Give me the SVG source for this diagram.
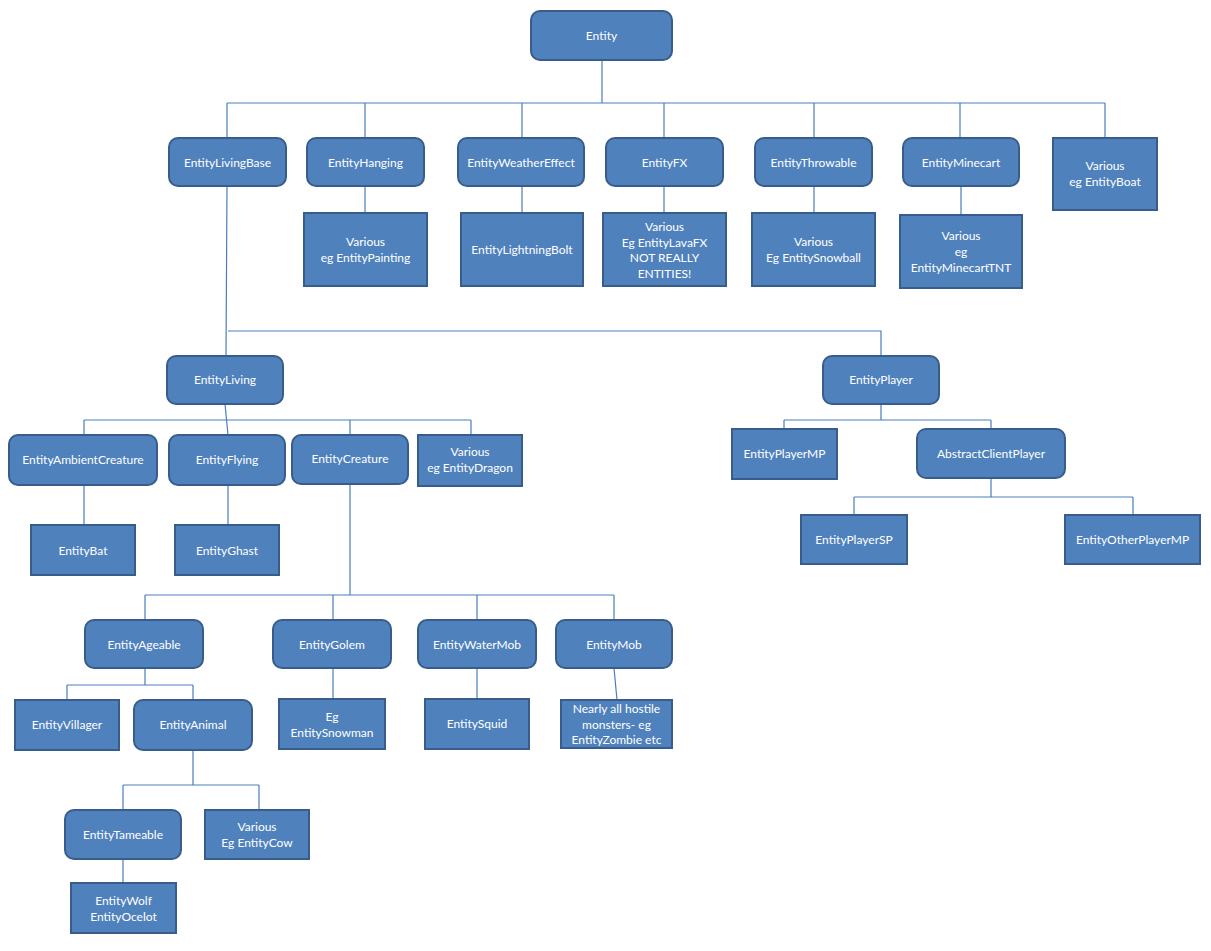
<svg xmlns="http://www.w3.org/2000/svg" width="1211" height="951" viewBox="0 0 1211 951">
<style>
.r{fill:#4F81BD;stroke:#385D8A;stroke-width:2}
.c{fill:none;stroke:#4A7EBB;stroke-width:1.2}
text{font-family:Lato,"Open Sans",sans-serif;font-size:12px;fill:#fff;text-anchor:middle}
</style>
<rect width="1211" height="951" fill="#fff"/>
<g id="connectors" class="c">
<path d="M602 60V103M227 103H1105M227 103V138M365 103V138M522 103V138M664 103V138M814 103V138M960 103V138M1105 103V138"/>
<path d="M365 186V213M522 186V213M664 186V213M814 186V213M961 186V215"/>
<path d="M227 186L226 356M228 331H881V356"/>
<path d="M225 404L228 435M84 420H471M84 420V435M350 420V435M471 420V435"/>
<path d="M84 485V525M228 485V525"/>
<path d="M350 484V595M145 595H614M145 595V620M333 595V620M477 595V620M614 595V620"/>
<path d="M145 668V685M67 685H193M67 685V700M193 685V700M333 668V699M477 668V699M614 668L617 700"/>
<path d="M193 750V785M123 785H259M123 785V810M259 785V810M123 859V883"/>
<path d="M881 404V420M784 420H991M784 420V429M991 420V429M991 478V497M854 497H1133M854 497V515M1133 497V515"/>
</g>
<g id="Entity"><rect class="r" x="531" y="11" width="141" height="49" rx="9"/><text x="601.5" y="40">Entity</text></g>
<g id="EntityLivingBase"><rect class="r" x="169" y="138" width="117" height="48" rx="9"/><text x="227.5" y="167">EntityLivingBase</text></g>
<g id="EntityHanging"><rect class="r" x="307" y="138" width="117" height="48" rx="9"/><text x="365.5" y="167">EntityHanging</text></g>
<g id="EntityWeatherEffect"><rect class="r" x="458" y="138" width="126" height="48" rx="9"/><text x="521" y="167">EntityWeatherEffect</text></g>
<g id="EntityFX"><rect class="r" x="606" y="138" width="117" height="48" rx="9"/><text x="664.5" y="167">EntityFX</text></g>
<g id="EntityThrowable"><rect class="r" x="755" y="138" width="117" height="48" rx="9"/><text x="813.5" y="167">EntityThrowable</text></g>
<g id="EntityMinecart"><rect class="r" x="903" y="138" width="116" height="48" rx="9"/><text x="961" y="167">EntityMinecart</text></g>
<g id="VariousBoat"><rect class="r" x="1053" y="138" width="104" height="72"/><text x="1105" y="170">Various</text><text x="1105" y="186">eg EntityBoat</text></g>
<g id="VariousPainting"><rect class="r" x="304" y="213" width="123" height="73"/><text x="365.5" y="246">Various</text><text x="365.5" y="262">eg EntityPainting</text></g>
<g id="EntityLightningBolt"><rect class="r" x="461" y="213" width="122" height="73"/><text x="522" y="254">EntityLightningBolt</text></g>
<g id="VariousFX"><rect class="r" x="603" y="213" width="123" height="73"/><text x="664.5" y="231">Various</text><text x="664.5" y="247">Eg EntityLavaFX</text><text x="664.5" y="262">NOT REALLY</text><text x="664.5" y="278">ENTITIES!</text></g>
<g id="VariousSnowball"><rect class="r" x="752" y="213" width="123" height="73"/><text x="813.5" y="246">Various</text><text x="813.5" y="262">Eg EntitySnowball</text></g>
<g id="VariousMinecartTNT"><rect class="r" x="900" y="215" width="122" height="73"/><text x="961" y="240">Various</text><text x="961" y="256">eg</text><text x="961" y="272">EntityMinecartTNT</text></g>
<g id="EntityLiving"><rect class="r" x="167" y="356" width="116" height="48" rx="9"/><text x="225" y="384">EntityLiving</text></g>
<g id="EntityPlayer"><rect class="r" x="823" y="356" width="116" height="48" rx="9"/><text x="881" y="384">EntityPlayer</text></g>
<g id="EntityAmbientCreature"><rect class="r" x="9" y="435" width="148" height="50" rx="9"/><text x="83" y="464">EntityAmbientCreature</text></g>
<g id="EntityFlying"><rect class="r" x="169" y="435" width="116" height="50" rx="9"/><text x="227" y="464">EntityFlying</text></g>
<g id="EntityCreature"><rect class="r" x="292" y="435" width="116" height="49" rx="9"/><text x="350" y="463">EntityCreature</text></g>
<g id="VariousDragon"><rect class="r" x="418" y="435" width="104" height="51"/><text x="470" y="456">Various</text><text x="470" y="472">eg EntityDragon</text></g>
<g id="EntityBat"><rect class="r" x="31" y="525" width="104" height="50"/><text x="83" y="555">EntityBat</text></g>
<g id="EntityGhast"><rect class="r" x="175" y="525" width="104" height="50"/><text x="227" y="555">EntityGhast</text></g>
<g id="EntityPlayerMP"><rect class="r" x="732" y="429" width="105" height="50"/><text x="784.5" y="458">EntityPlayerMP</text></g>
<g id="AbstractClientPlayer"><rect class="r" x="917" y="429" width="148" height="49" rx="9"/><text x="991" y="458">AbstractClientPlayer</text></g>
<g id="EntityPlayerSP"><rect class="r" x="801" y="515" width="106" height="49"/><text x="854" y="544">EntityPlayerSP</text></g>
<g id="EntityOtherPlayerMP"><rect class="r" x="1065" y="515" width="135" height="49"/><text x="1132.5" y="544">EntityOtherPlayerMP</text></g>
<g id="EntityAgeable"><rect class="r" x="85" y="620" width="118" height="48" rx="9"/><text x="144" y="649">EntityAgeable</text></g>
<g id="EntityGolem"><rect class="r" x="273" y="620" width="118" height="48" rx="9"/><text x="332" y="649">EntityGolem</text></g>
<g id="EntityWaterMob"><rect class="r" x="418" y="620" width="118" height="48" rx="9"/><text x="477" y="649">EntityWaterMob</text></g>
<g id="EntityMob"><rect class="r" x="556" y="620" width="116" height="48" rx="9"/><text x="614" y="649">EntityMob</text></g>
<g id="EntityVillager"><rect class="r" x="15" y="700" width="104" height="50"/><text x="67" y="729">EntityVillager</text></g>
<g id="EntityAnimal"><rect class="r" x="134" y="700" width="118" height="50" rx="9"/><text x="193" y="729">EntityAnimal</text></g>
<g id="EgSnowman"><rect class="r" x="279" y="699" width="106" height="50"/><text x="332" y="721">Eg</text><text x="332" y="737">EntitySnowman</text></g>
<g id="EntitySquid"><rect class="r" x="425" y="699" width="104" height="50"/><text x="477" y="728">EntitySquid</text></g>
<g id="HostileMonsters"><rect class="r" x="561" y="700" width="111" height="48"/><text x="616.5" y="713">Nearly all hostile</text><text x="616.5" y="729">monsters- eg</text><text x="616.5" y="744">EntityZombie etc</text></g>
<g id="EntityTameable"><rect class="r" x="65" y="810" width="116" height="49" rx="9"/><text x="123" y="839">EntityTameable</text></g>
<g id="VariousCow"><rect class="r" x="205" y="810" width="104" height="49"/><text x="257" y="831">Various</text><text x="257" y="847">Eg EntityCow</text></g>
<g id="WolfOcelot"><rect class="r" x="71" y="883" width="105" height="50"/><text x="123.5" y="905">EntityWolf</text><text x="123.5" y="921">EntityOcelot</text></g>
</svg>
